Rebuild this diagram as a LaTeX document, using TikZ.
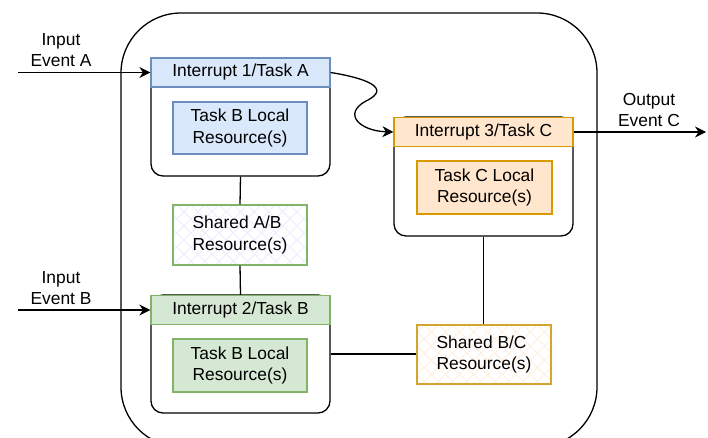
\documentclass[tikz,border=0pt]{standalone}
\usepackage{fontspec}
\setmainfont{Liberation Sans}
\usetikzlibrary{arrows.meta,patterns.meta}
\definecolor{bfill}{HTML}{DAE8FC}\definecolor{bdraw}{HTML}{6C8EBF}
\definecolor{gfill}{HTML}{D5E8D4}\definecolor{gdraw}{HTML}{82B366}
\definecolor{ofill}{HTML}{FFE6CC}\definecolor{odraw}{HTML}{D79B00}
\definecolor{ydraw}{HTML}{D3A52C}
\begin{document}
\begin{tikzpicture}[x=1pt,y=-1pt,font=\fontsize{17.4}{21.5}\selectfont,line width=1.3pt,
  container/.style={draw=black,rounded corners=12pt,minimum width=179pt,inner sep=0pt},
  header/.style={draw=#1,minimum width=179pt,minimum height=29pt,inner sep=0pt},
  inner/.style={draw=#1,minimum width=134pt,minimum height=52pt,inner sep=0pt,align=center},
  shared/.style={draw=#1,minimum width=134pt,minimum height=60pt,inner sep=0pt,align=left},
  lbl/.style={inner sep=0pt,align=center},
  arr/.style={-{Stealth[length=11pt,width=11pt]}},
  conn/.style={draw=black}]
\clip (0,0) rectangle (708,438);
\fill[white] (0,0) rectangle (708,438);
% outer container
\draw[rounded corners=60pt] (121,13) rectangle (597,447);

% Task A
\node[container,minimum height=118pt] (contA) at (240.5,117) {};
\node[header=bdraw,fill=bfill] (hdrA) at (240.5,72.5) {Interrupt 1/Task A};
\node[inner=bdraw,fill=bfill] (locA) at (240,128) {Task B Local\\Resource(s)};

% Task B
\node[container,minimum height=118pt] (contB) at (240.5,354) {};
\node[header=gdraw,fill=gfill] (hdrB) at (240.5,310) {Interrupt 2/Task B};
\node[inner=gdraw,fill=gfill,minimum height=53pt] (locB) at (240,365.5) {Task B Local\\Resource(s)};

% Task C
\node[container,minimum height=119pt] (contC) at (483.5,176.5) {};
\node[header=odraw,fill=ofill] (hdrC) at (483.5,132) {Interrupt 3/Task C};
\node[inner=odraw,fill=ofill,minimum width=135pt,minimum height=53pt] (locC) at (484.5,187.5) {Task C Local\\Resource(s)};

% shared resources
\node[shared=gdraw,
  preaction={pattern={Hatch[angle=45,distance=10pt,line width=0.9pt]},pattern color=blue!7}] (shAB) at (240,235) {Shared A/B\\Resource(s)};
\node[shared=ydraw,minimum height=59pt,
  preaction={pattern={Hatch[angle=45,distance=10pt,line width=0.9pt]},pattern color=orange!12}] (shBC) at (484,354.5) {Shared B/C\\Resource(s)};

% connectors
\draw[conn] (contA.south) -- (shAB.north);
\draw[conn] (shAB.south) -- (hdrB.north);
\draw[conn] (contB.east) -- (contB.east -| shBC.west);
\draw[conn] (contC.south) -- (contC.south |- shBC.north);

% inputs / outputs
\coordinate (inA) at (18,72.5);
\coordinate (inB) at (18,310);
\coordinate (outC) at (706,132);
\draw[arr] (inA) -- (hdrA.west);
\draw[arr] (inB) -- (hdrB.west);
\draw[arr] (hdrC.east) -- (outC);
\node[lbl] (lblA) at (61,50) {Input\\Event A};
\node[lbl] (lblB) at (61,288) {Input\\Event B};
\node[lbl] (lblC) at (649,110) {Output\\Event C};

% curved connector A -> C
\draw[arr] (hdrA.east) .. controls (365,78) and (393,88) .. (366,101)
  .. controls (342,114) and (360,131) .. (hdrC.west);
\end{tikzpicture}
\end{document}
